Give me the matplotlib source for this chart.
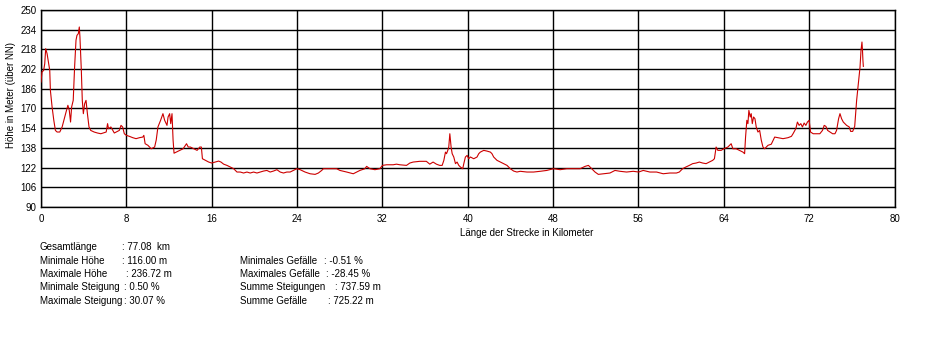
import matplotlib
matplotlib.use("Agg")
import matplotlib.pyplot as plt

plt.rcParams['font.family'] = ['Liberation Sans', 'DejaVu Sans']

# ---- data (km, elevation m) ----
km = [0, 0.09, 0.25, 0.35, 0.44, 0.57, 0.72, 0.82, 0.88, 1.04, 1.20, 1.35, 1.51, 1.76, 1.98, 2.14, 2.39, 2.52,
      2.65, 2.77, 2.87, 3.02, 3.15, 3.28, 3.37, 3.50, 3.59, 3.65, 3.78, 3.87, 3.97, 4.09, 4.22, 4.35, 4.50, 4.66,
      4.98, 5.29, 5.61, 6.11, 6.24, 6.33, 6.55, 6.87, 7.34, 7.50, 7.65, 7.81, 8.00, 8.28, 8.60, 8.91, 9.23, 9.54,
      9.64, 9.76, 10.02, 10.33, 10.65, 10.80, 10.96, 11.21, 11.43, 11.59, 11.81, 11.91, 12.06, 12.16, 12.28, 12.38,
      12.47, 12.69, 13.01, 13.32, 13.64, 13.80,
      14.0, 14.32, 14.63, 14.88, 15.03, 15.13, 15.41, 15.72, 16.0, 16.34, 16.65, 16.87, 17.12, 17.43, 17.74, 18.06,
      18.37, 18.68, 18.99, 19.30, 19.61, 19.93, 20.24, 20.55, 20.86, 21.17, 21.48, 21.79, 22.11, 22.42, 22.73, 23.04,
      23.35, 23.98, 24.29, 24.75, 25.22, 25.69, 26.0, 26.31, 26.47, 27.09, 27.71, 28.02, 28.65, 29.27, 29.58, 29.89,
      30.36, 30.52, 30.83, 31.30, 31.76, 32.01, 32.39, 33.01, 33.32, 33.63, 34.26, 34.57, 34.88, 35.50, 36.12, 36.44,
      36.75, 37.06, 37.37,
      37.60, 37.76, 37.91, 38.01, 38.13, 38.22, 38.32, 38.38, 38.44, 38.54, 38.69, 38.85, 39.00, 39.16, 39.31, 39.53,
      39.63, 39.78, 39.94, 40.09, 40.25, 40.56, 40.87, 41.03, 41.18, 41.50, 41.81, 42.12, 42.27, 42.43, 42.74, 43.05,
      43.36, 43.68, 43.99, 44.30, 44.61, 44.92, 45.55, 46.17, 46.79, 47.41, 48.04, 48.66, 49.28, 49.91, 50.53, 51.0,
      51.31, 51.62, 51.93, 52.24, 52.71, 53.33, 53.80, 54.27, 54.89, 55.51, 56.01, 56.45, 57.07, 57.70, 58.32, 58.94,
      59.56,
      59.83, 60.14, 60.45, 60.77, 61.08, 61.40, 61.71, 62.02, 62.34, 62.65, 62.96, 63.12, 63.28, 63.44, 63.75, 64.0,
      64.38, 64.69, 64.85, 65.16, 65.47, 65.79, 65.95, 66.04, 66.16, 66.26, 66.35, 66.48, 66.57, 66.67, 66.79, 66.92,
      67.04, 67.20, 67.36, 67.51, 67.67, 67.83, 67.98, 68.14, 68.45, 68.77, 69.08, 69.55, 70.02, 70.34, 70.49, 70.75,
      70.90, 71.06, 71.22, 71.37, 71.53, 71.69, 71.84, 72.0, 72.13, 72.38, 72.69, 73.00, 73.25, 73.41, 73.57, 73.73,
      73.95, 74.20, 74.42, 74.57, 74.76, 74.89, 75.04, 75.20, 75.51, 75.76, 75.89, 76.08, 76.27, 76.45, 76.61, 76.77,
      76.86, 76.95, 77.00, 77.04, 77.08]

elevation = [191.5, 199.6, 201.0, 206.4, 218.6, 214.5, 206.4, 201.0, 184.7, 171.2, 160.4, 152.2, 150.9, 150.9, 155.0,
             160.4, 168.5, 172.6, 168.5, 159.0, 171.2, 176.6, 203.7, 225.4, 229.4, 230.8, 236.2, 228.1, 201.0, 176.6,
             165.8, 173.9, 176.6, 165.8, 155.0, 152.2, 150.9, 150.1, 149.5, 150.9, 157.7, 153.6, 155.0, 150.1, 152.2,
             156.3, 155.0, 149.5, 148.2, 147.4, 146.3, 145.5, 146.3, 146.8, 148.2, 141.4, 140.1, 137.3, 138.7, 144.4,
             155.0, 160.4, 165.8, 160.4, 156.3, 163.1, 165.8, 157.7, 165.8, 144.4, 133.7, 134.6, 136.0, 137.3, 141.4,
             138.7,
             138.7, 137.3, 136.0, 138.7, 138.7, 129.2, 127.9, 126.5, 125.7, 126.5, 127.3, 126.5, 124.8, 123.8, 122.5,
             121.1, 118.4, 118.4, 117.6, 118.4, 117.6, 118.4, 117.6, 118.4, 119.2, 119.7, 118.4, 119.2, 120.3, 118.4,
             117.6, 118.4, 118.4, 121.1, 120.3, 118.4, 117.0, 116.5, 117.6, 119.7, 121.1, 121.1, 121.1, 119.7, 118.4,
             117.0, 118.4, 119.7, 121.1, 123.0, 121.1, 120.3, 121.1, 123.8, 124.3, 124.3, 124.8, 124.3, 123.8, 125.7,
             126.5, 127.1, 127.1, 124.8, 126.5, 124.8, 123.8,
             123.8, 127.9, 134.6, 133.3, 136.0, 138.7, 149.5, 144.1, 138.7, 133.3, 130.6, 125.2, 126.5, 123.8, 122.5,
             121.1, 125.2, 130.6, 131.9, 129.2, 130.6, 129.2, 130.6, 133.3, 134.6, 136.0, 135.4, 134.6, 133.3, 130.6,
             127.9, 126.5, 125.2, 123.8, 121.1, 119.2, 118.4, 119.0, 118.4, 118.4, 119.0, 119.7, 121.1, 120.3, 121.1,
             121.1, 121.1, 123.0, 123.8, 121.1, 118.4, 116.5, 117.0, 117.6, 119.7, 119.0, 118.4, 119.0, 118.4, 119.7,
             118.4, 118.4, 117.0, 117.6, 117.6,
             118.4, 121.1, 122.5, 123.8, 125.2, 125.7, 126.5, 125.7, 125.2, 126.5, 127.9, 129.2, 138.7, 136.0, 136.0,
             137.3, 138.7, 141.4, 137.3, 137.3, 136.0, 134.6, 133.3, 146.8, 160.4, 157.7, 168.5, 163.1, 165.8, 157.7,
             163.1, 161.7, 155.0, 150.9, 152.2, 144.4, 138.7, 137.3, 138.7, 140.1, 141.0, 146.8, 146.3, 145.5, 146.3,
             147.4, 149.5, 153.6, 159.0, 156.3, 157.7, 155.0, 158.2, 156.3, 159.0, 160.4, 150.9, 149.5, 149.5, 149.5,
             152.2, 156.3, 155.5, 152.2, 150.9, 149.5, 149.5, 152.2, 161.7, 165.8, 161.7, 159.0, 156.3, 155.0, 151.4,
             151.4, 155.5, 176.6, 190.2, 203.7, 217.2, 224.0, 217.2, 209.1, 204.2]

x_ticks = [0, 8, 16, 24, 32, 40, 48, 56, 64, 72, 80]
y_ticks = [90, 106, 122, 138, 154, 170, 186, 202, 218, 234, 250]

stats_left = [("Gesamtlänge", ": 77.08  km"),
              ("Minimale Höhe", ": 116.00 m"),
              ("Maximale Höhe", ": 236.72 m"),
              ("Minimale Steigung", ": 0.50 %"),
              ("Maximale Steigung", ": 30.07 %")]
stats_right = [("Minimales Gefälle", ": -0.51 %"),
               ("Maximales Gefälle", ": -28.45 %"),
               ("Summe Steigungen", ": 737.59 m"),
               ("Summe Gefälle", ": 725.22 m")]

W, H = 944, 338
fig = plt.figure(figsize=(W / 100, H / 100), dpi=100)
fig.patch.set_facecolor('white')


def fx(px):
    return px / W


def fy(py):
    return 1 - py / H


ax = fig.add_axes([fx(41), fy(207), fx(894.5) - fx(41), fy(10) - fy(207)])
ax.plot(km, elevation, color='#cc0000', linewidth=0.8, zorder=3)
ax.set_xlim(0, 80)
ax.set_ylim(90, 250)
ax.set_xticks(x_ticks)
ax.set_yticks(y_ticks)
ax.set_xticklabels([str(t) for t in x_ticks])
ax.set_yticklabels([str(t) for t in y_ticks])
ax.grid(True, color='black', linewidth=1.0)
ax.set_axisbelow(True)
ax.tick_params(length=0, labelsize=7, colors='black')
ax.tick_params(axis='y', pad=3)
ax.tick_params(axis='x', pad=5)
for s in ax.spines.values():
    s.set_color('black')
    s.set_linewidth(1.0)

fig.text(fx(11), fy(95), "Höhe in Meter (über NN)", rotation=90, ha='center', va='center', fontsize=7)
fig.text(fx(527), fy(233), "Länge der Strecke in Kilometer", ha='center', va='center', fontsize=7)

row_y = [247, 261, 274, 287, 301]
left_colon_x = [122.5, 122.5, 126, 124, 124]
for (lab, val), y, cx in zip(stats_left, row_y, left_colon_x):
    fig.text(fx(40), fy(y), lab, ha='left', va='center', fontsize=7)
    fig.text(fx(cx), fy(y), val, ha='left', va='center', fontsize=7)

right_colon_x = [324, 325.5, 335, 328]
for (lab, val), y, cx in zip(stats_right, row_y[1:], right_colon_x):
    fig.text(fx(240), fy(y), lab, ha='left', va='center', fontsize=7)
    fig.text(fx(cx), fy(y), val, ha='left', va='center', fontsize=7)

fig.savefig("out.png", dpi=100, facecolor='white')
